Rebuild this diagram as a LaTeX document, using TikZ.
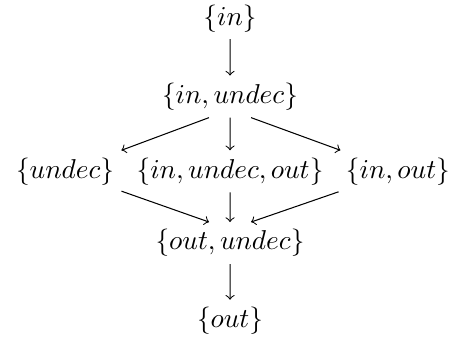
\documentclass[tikz,border=0pt]{standalone}
\usepackage{amsmath,amssymb}
\usepackage{tikz}

\begin{document}
\begin{tikzpicture}[scale=1.0, every node/.style={scale=1.05, inner sep=2.5pt}]
    \useasboundingbox (0,0) rectangle (6.165,4.556);

    % Labellings
    \node (in) at (3.11,4.31) {$\{in\}$};
    \node (inundec) at (3.11,3.25) {$\{in, undec\}$};
    \node (undec) at (0.88,2.24) {$\{undec\}$};
    \node (all) at (3.11,2.24) {$\{in, undec, out\}$};
    \node (inout) at (5.38,2.24) {$\{in, out\}$};
    \node (outundec) at (3.11,1.27) {$\{out, undec\}$};
    \node (out) at (3.11,0.22) {$\{out\}$};

    % Edges
    \draw[->] (in) -- (inundec);
    \draw[->] (inundec.-135) -- (undec);
    \draw[->] (inundec) -- (all);
    \draw[->] (inundec.-45) -- (inout);
    \draw[->] (undec) -- (outundec.135);
    \draw[->] (all) -- (outundec);
    \draw[->] (inout) -- (outundec.45);
    \draw[->] (outundec) -- (out);
\end{tikzpicture}
\end{document}
